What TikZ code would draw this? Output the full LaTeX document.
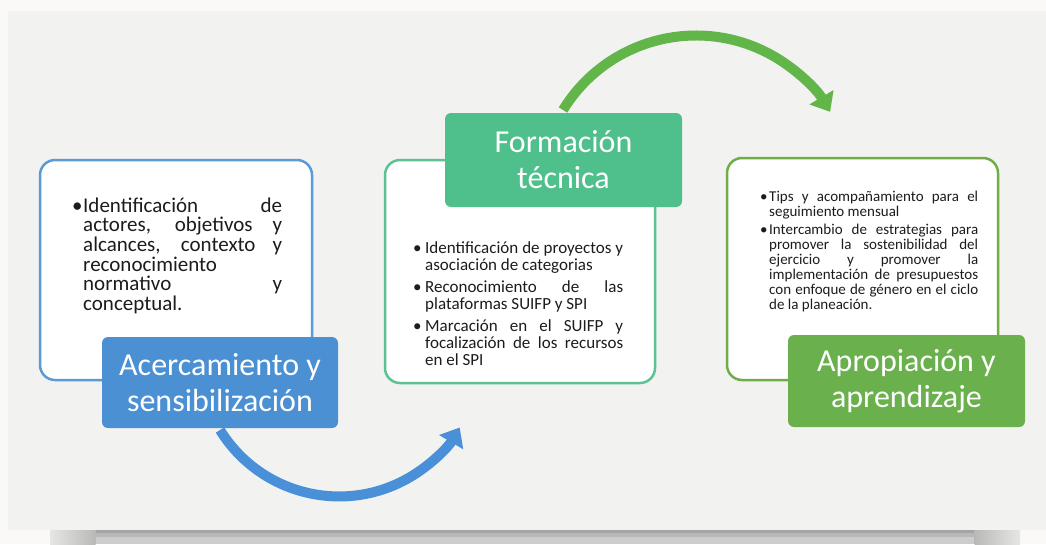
\documentclass[tikz,border=0pt]{standalone}
\usepackage{fontspec}
\setmainfont{Carlito}
\usetikzlibrary{arrows.meta}
\definecolor{outerbg}{HTML}{FAF9F7}
\definecolor{panelbg}{HTML}{F2F2F1}
\definecolor{blueL}{HTML}{4A90D2}
\definecolor{blueB}{HTML}{5B9BD5}
\definecolor{blueA}{HTML}{4A90D9}
\definecolor{tealL}{HTML}{4FBF8B}
\definecolor{tealB}{HTML}{5CC293}
\definecolor{greenL}{HTML}{6AB04C}
\definecolor{greenB}{HTML}{70AD47}
\definecolor{greenA}{HTML}{62B548}
\definecolor{bodyc}{HTML}{1C1C1C}
\definecolor{shdark}{HTML}{A4A4A4}
\definecolor{shmid}{HTML}{B8B8B8}
\definecolor{shlight}{HTML}{CCCCCC}
\definecolor{shend}{HTML}{E6E6E4}
\newcommand{\mybul}[1]{\hangindent=#1\hangafter=1\noindent\makebox[#1][l]{•}}
\begin{document}
\begin{tikzpicture}[x=1pt,y=-1pt,
  outline/.style={line width=2.5pt, fill=white, rounded corners=15pt, inner sep=0pt},
  label/.style={rounded corners=6pt, inner sep=0pt, text=white, align=center,
                font=\fontsize{32}{36}\selectfont},
  bodytext/.style={inner sep=0pt, align=justify, text=bodyc, anchor=base west},
  flow/.style={line width=10pt},
]
\useasboundingbox (0,0) rectangle (1046,544);
% background
\fill[outerbg] (0,0) rectangle (1046,544);
\fill[panelbg] (8,11) rectangle (1046,530);
% shadow strip
\fill[shlight] (95,530) rectangle (975,544);
\fill[shmid] (95,530) rectangle (975,537);
\fill[shdark] (95,530) rectangle (975,533);
\begin{scope}[y=1pt]
  \shade[left color=shend, right color=shmid] (50,-530) rectangle (95.5,-544);
  \shade[left color=shmid, right color=shend] (974.5,-530) rectangle (1020,-544);
\end{scope}

% arcs
\coordinate (a1s) at (220,430);
\coordinate (a2s) at (563,110);
\draw[flow, blueA, -{Triangle[width=27pt,length=17pt]}] (a1s) arc[start angle=148.3, end angle=30.5, radius=140];
\draw[flow, greenA, -{Triangle[width=27pt,length=17pt]}] (a2s) arc[start angle=211.5, end angle=329.3, radius=156];

% boxes
\node[outline, draw=blueB, minimum width=272pt, minimum height=220pt] (b1) at (176,270) {};
\node[outline, draw=tealB, minimum width=270pt, minimum height=223pt] (b2) at (520,271.5) {};
\node[outline, draw=greenB, minimum width=271pt, minimum height=222pt] (b3) at (862.5,269) {};

% body texts
\node[bodytext, text width=210pt, font=\fontsize{21}{19.7}\selectfont] (t1) at (72,212)
 {\mybul{11pt}Identificación de\linebreak actores, objetivos y\linebreak alcances, contexto y\linebreak reconocimiento\linebreak normativo y\linebreak conceptual.\par};
\node[bodytext, text width=210pt, font=\fontsize{17}{17}\selectfont] (t2) at (413,253)
 {\setlength{\parskip}{5pt}%
  \mybul{12pt}Identificación de proyectos y\linebreak asociación de categorias\par
  \mybul{12pt}Reconocimiento de las\linebreak plataformas SUIFP y SPI\par
  \mybul{12pt}Marcación en el SUIFP y\linebreak focalización de los recursos\linebreak en el SPI\par};
\node[bodytext, text width=218pt, font=\fontsize{15}{15}\selectfont] (t3) at (760,201)
 {\setlength{\parskip}{3.5pt}%
  \mybul{9pt}Tips y acompañamiento para el\linebreak seguimiento mensual\par
  \mybul{9pt}Intercambio de estrategias para\linebreak promover la sostenibilidad del\linebreak ejercicio y promover la\linebreak implementación de presupuestos\linebreak con enfoque de género en el ciclo\linebreak de la planeación.\par};

% labels
\node[label, fill=blueL, minimum width=236pt, minimum height=91pt] (l1) at (220,382.5) {Acercamiento y\\sensibilización};
\node[label, fill=tealL, minimum width=237pt, minimum height=94pt] (l2) at (563.5,160) {Formación\\técnica};
\node[label, fill=greenL, minimum width=237pt, minimum height=92pt] (l3) at (906.5,381) {Apropiación y\\aprendizaje};
\end{tikzpicture}
\end{document}
